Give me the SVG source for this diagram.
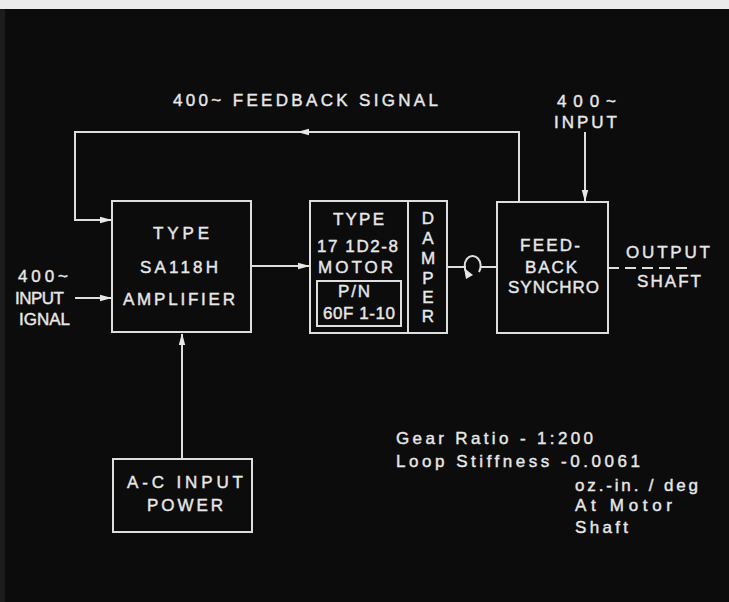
<svg xmlns="http://www.w3.org/2000/svg" width="729" height="602" viewBox="0 0 729 602">
  <defs>
    <style>
      .box { fill: none; stroke: #dedede; stroke-width: 2; }
      .ln { fill: none; stroke: #dedede; stroke-width: 2; }
      .t { font-family: "Liberation Sans", Arial, sans-serif; font-size: 17px; fill: #e8e8e8; stroke: #e8e8e8; stroke-width: 0.4; }
      .c { text-anchor: middle; }
    </style>
    <marker id="ah" viewBox="0 0 12 8" refX="11" refY="4" markerWidth="12" markerHeight="8" markerUnits="userSpaceOnUse" orient="auto">
      <path d="M0,0.8 L12,4 L0,7.2 Z" fill="#e8e8e8"/>
    </marker>
  </defs>
  <rect x="0" y="0" width="729" height="602" fill="#0c0c0c"/>
  <rect x="0" y="0" width="729" height="9" fill="#ebebeb"/>
  <rect x="0" y="9" width="5" height="593" fill="#1c1c1c"/>

  <g id="connectors">
    <path class="ln" d="M519,202 V132 H298" marker-end="url(#ah)"/>
    <path class="ln" d="M300,132 H75 V220 H111" marker-end="url(#ah)"/>
    <path class="ln" d="M75,298 H111" marker-end="url(#ah)"/>
    <path class="ln" d="M251,266 H309" marker-end="url(#ah)"/>
    <path class="ln" d="M182,458 V334" marker-end="url(#ah)"/>
    <path class="ln" d="M585,132 V201" marker-end="url(#ah)"/>
    <path class="ln" d="M447,267 H466 M481,267 H497"/>
    <path class="ln" d="M467,273 A8 10 0 1 1 479,272"/>
    <path d="M464,268 L473,275 L466,279 Z" fill="#e8e8e8"/>
    <path class="ln" d="M608,268 H690" stroke-dasharray="11 6"/>
  </g>

  <g id="feedback-label">
    <text class="t" x="173" y="106" textLength="265" lengthAdjust="spacing">400~ FEEDBACK SIGNAL</text>
  </g>

  <g id="input-signal">
    <text class="t" x="18" y="282" textLength="50" lengthAdjust="spacing">400~</text>
    <text class="t" x="15" y="304" textLength="49" lengthAdjust="spacing">INPUT</text>
    <text class="t" x="19" y="325" textLength="51" lengthAdjust="spacing">IGNAL</text>
  </g>

  <g id="amplifier">
    <rect class="box" x="112" y="201" width="139" height="131"/>
    <text class="t" x="153" y="239" textLength="56" lengthAdjust="spacing">TYPE</text>
    <text class="t" x="140" y="273" textLength="78" lengthAdjust="spacing">SA118H</text>
    <text class="t" x="123" y="305" textLength="112" lengthAdjust="spacing">AMPLIFIER</text>
  </g>

  <g id="motor">
    <rect class="box" x="310" y="201" width="98" height="132"/>
    <text class="t" x="333" y="225" textLength="51" lengthAdjust="spacing">TYPE</text>
    <text class="t" x="317" y="252" textLength="81" lengthAdjust="spacing">17 1D2-8</text>
    <text class="t" x="318" y="273" textLength="75" lengthAdjust="spacing">MOTOR</text>
    <rect class="box" x="317" y="281" width="84" height="45"/>
    <text class="t" x="338" y="297" textLength="32" lengthAdjust="spacing">P/N</text>
    <text class="t" x="323" y="319" textLength="72" lengthAdjust="spacing">60F 1-10</text>
  </g>

  <g id="damper">
    <rect class="box" x="408" y="201" width="39" height="132"/>
    <text class="t c" x="428" y="224">D</text>
    <text class="t c" x="428" y="244">A</text>
    <text class="t c" x="428" y="264">M</text>
    <text class="t c" x="428" y="284">P</text>
    <text class="t c" x="428" y="303">E</text>
    <text class="t c" x="428" y="322">R</text>
  </g>

  <g id="synchro-input">
    <text class="t" x="557" y="107" textLength="59" lengthAdjust="spacing">400~</text>
    <text class="t" x="554" y="128" textLength="63" lengthAdjust="spacing">INPUT</text>
  </g>

  <g id="synchro">
    <rect class="box" x="497" y="202" width="111" height="131"/>
    <text class="t" x="520" y="251" textLength="60" lengthAdjust="spacing">FEED-</text>
    <text class="t" x="525" y="273" textLength="52" lengthAdjust="spacing">BACK</text>
    <text class="t" x="508" y="293" textLength="91" lengthAdjust="spacing">SYNCHRO</text>
  </g>

  <g id="output-shaft">
    <text class="t" x="626" y="258" textLength="84" lengthAdjust="spacing">OUTPUT</text>
    <text class="t" x="637" y="287" textLength="64" lengthAdjust="spacing">SHAFT</text>
  </g>

  <g id="power">
    <rect class="box" x="113" y="459" width="139" height="73"/>
    <text class="t" x="127" y="488" textLength="116" lengthAdjust="spacing">A-C INPUT</text>
    <text class="t" x="147" y="511" textLength="76" lengthAdjust="spacing">POWER</text>
  </g>

  <g id="notes">
    <text class="t" x="396" y="444" textLength="197" lengthAdjust="spacing">Gear Ratio - 1:200</text>
    <text class="t" x="396" y="467" textLength="244" lengthAdjust="spacing">Loop Stiffness -0.0061</text>
    <text class="t" x="575" y="491" textLength="123" lengthAdjust="spacing">oz.-in. / deg</text>
    <text class="t" x="575" y="511" textLength="97" lengthAdjust="spacing">At Motor</text>
    <text class="t" x="575" y="533" textLength="53" lengthAdjust="spacing">Shaft</text>
  </g>
</svg>
